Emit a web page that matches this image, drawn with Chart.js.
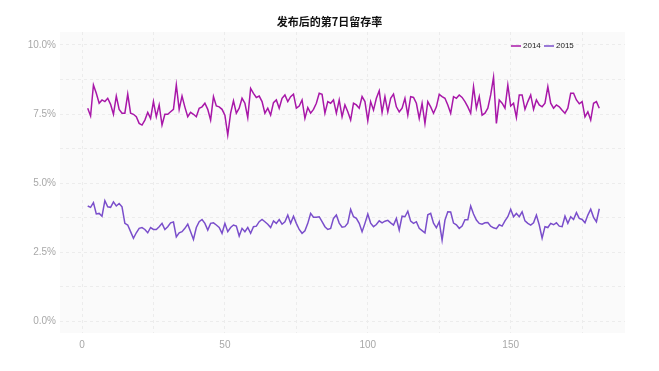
<!DOCTYPE html>
<html lang="zh">
  <head>
    <meta charset="UTF-8" />
    <title>发布后的第7日留存率</title>
    <style>
      body {
        margin: 0;
        padding: 0;
        background-color: #ffffff;
      }
      .wrap {
        position: relative;
        width: 659px;
        height: 371px;
      }
    </style>
  </head>
  <body>
    <div class="wrap">
      <canvas id="chart" width="659" height="371"></canvas>
    </div>

    <script src="https://cdn.jsdelivr.net/npm/chart.js@4/dist/chart.umd.min.js"></script>
    <script>
      // day after release (x) and retention in percent
      const firstDay = 2;
      const chartTitle = "发布后的第7日留存率";
      const seriesNames = ["2014", "2015"];
      const seriesColors = ["#a817a8", "#7a4ecb"];

      const retention2014 = [
        7.71, 7.43, 8.55, 8.25, 7.89, 8.01, 7.95, 8.07, 7.85, 7.49,
        8.15, 7.67, 7.53, 7.53, 8.22, 7.53, 7.49, 7.40, 7.16, 7.10,
        7.28, 7.56, 7.34, 7.95, 7.40, 7.83, 7.10, 7.49, 7.49, 7.58,
        7.67, 8.55, 7.67, 8.15, 7.75, 7.40, 7.56, 7.49, 7.40, 7.71,
        7.76, 7.89, 7.67,
        7.28, 8.13, 7.79, 7.76, 7.67, 7.46, 6.74, 7.53, 7.98, 7.53,
        7.71, 8.07, 7.89, 7.37, 8.43, 8.25, 8.10, 8.15, 7.95, 7.53,
        7.71, 7.46, 7.91, 8.01, 7.71, 8.07, 8.19, 7.95, 8.13, 8.22,
        7.71, 7.79, 8.01, 7.34, 7.73, 7.53, 7.67, 7.89, 8.25, 8.21,
        7.53, 7.95,
        7.89, 8.01, 7.53, 8.01, 7.40, 7.83, 7.58, 7.28, 7.89, 7.83,
        7.71, 8.13, 7.95, 7.26, 7.95, 7.64, 8.07, 8.34, 7.56, 8.13,
        7.58, 8.07, 8.22, 7.76, 7.58, 7.71, 8.07, 7.46, 8.13, 8.10,
        7.89, 7.34, 7.89, 7.16, 7.95, 7.76, 7.53, 7.76, 8.21, 8.13,
        8.07, 7.83, 7.53, 8.13,
        8.07, 8.19, 8.10, 7.95, 7.76, 7.53, 8.49, 7.71, 8.13, 7.46,
        7.53, 7.71, 8.19, 8.83, 7.16, 8.01, 7.89, 7.71, 8.55, 7.79,
        7.89, 7.38, 8.19, 8.19, 7.67, 7.95, 8.19, 7.67, 8.01, 7.83,
        7.76, 7.89, 8.49, 7.89, 7.71, 7.83, 7.76, 7.64, 7.53, 7.71,
        8.25, 8.25, 8.01, 7.87, 7.95, 7.40, 7.58, 7.28, 7.89, 7.95,
        7.71,
      ];

      const retention2015 = [
        4.17, 4.12, 4.29, 3.88, 3.90, 3.80, 4.36, 4.14, 4.12, 4.32,
        4.17, 4.26, 4.14, 3.54, 3.48, 3.24, 3.00, 3.20, 3.36, 3.39,
        3.32, 3.20, 3.39, 3.32, 3.32, 3.42, 3.54, 3.32, 3.42, 3.56,
        3.59, 3.05, 3.20, 3.24, 3.36, 3.51, 3.24, 2.96, 3.39, 3.60,
        3.68, 3.54, 3.30,
        3.54, 3.56, 3.48, 3.39, 3.18, 3.54, 3.24, 3.39, 3.48, 3.44,
        3.08, 3.36, 3.24, 3.39, 3.18, 3.42, 3.44, 3.60, 3.68, 3.60,
        3.51, 3.39, 3.63, 3.54, 3.68, 3.51, 3.60,
        3.84, 3.54, 3.80, 3.54, 3.32, 3.18, 3.27, 3.54, 3.90, 3.76,
        3.76, 3.78, 3.60, 3.42, 3.32,
        3.36, 3.72, 3.84, 3.55, 3.40, 3.42, 3.55, 4.05, 3.78, 3.72,
        3.54, 3.24, 3.54, 3.88, 3.55, 3.42, 3.50, 3.63, 3.56, 3.62,
        3.65, 3.56, 3.48, 3.72, 3.30, 3.80, 3.78, 3.98, 3.62, 3.54,
        3.60, 3.36, 3.28, 3.20, 3.85, 3.90, 3.55, 3.38, 3.60, 2.93,
        3.66, 3.96, 3.95, 3.55,
        3.49, 3.36, 3.44, 3.67, 3.67, 4.17, 3.88, 3.66, 3.54, 3.51,
        3.56, 3.57, 3.44, 3.38, 3.35, 3.49, 3.44, 3.63, 3.78, 4.05,
        3.78, 3.90, 3.78, 3.96, 3.63, 3.54, 3.48, 3.56, 3.84, 3.48,
        3.00, 3.42, 3.39, 3.54, 3.49, 3.56, 3.44, 3.42, 3.80, 3.54,
        3.78, 3.68, 3.93, 3.72, 3.68, 3.56, 3.84, 4.05, 3.76, 3.60,
        4.07,
      ];

      const yLabelTicks = [0, 2.5, 5, 7.5, 10];
      const xLabelTicks = [0, 50, 100, 150];

      function toPoints(values) {
        return values.map((v, i) => ({ x: firstDay + i, y: v }));
      }

      const gridColor = "#ececec";
      const tickColor = "#a8a8a8";

      const plotBackground = {
        id: "plotBackground",
        beforeDraw(chart) {
          const { ctx, chartArea } = chart;
          ctx.save();
          ctx.fillStyle = "#fafafa";
          ctx.fillRect(
            chartArea.left,
            chartArea.top,
            chartArea.right - chartArea.left,
            chartArea.bottom - chartArea.top
          );
          ctx.restore();
        },
      };

      // title centred on the whole canvas, legend inside the plot top right
      const titleAndLegend = {
        id: "titleAndLegend",
        afterDraw(chart) {
          const { ctx, chartArea } = chart;
          ctx.save();
          ctx.font = "bold 11px 'Noto Sans CJK SC', sans-serif";
          ctx.fillStyle = "#111";
          ctx.textAlign = "center";
          ctx.textBaseline = "middle";
          ctx.fillText(chartTitle, chart.width / 2, 22);

          ctx.font = "8px Arial, 'Liberation Sans', sans-serif";
          ctx.textAlign = "left";
          let x = chartArea.right - 114;
          const y = chartArea.top + 14;
          chart.data.datasets.forEach((ds) => {
            ctx.strokeStyle = ds.borderColor;
            ctx.lineWidth = 1.5;
            ctx.beginPath();
            ctx.moveTo(x, y);
            ctx.lineTo(x + 10, y);
            ctx.stroke();
            ctx.fillStyle = "#222";
            ctx.fillText(ds.label, x + 12, y);
            x += 33;
          });
          ctx.restore();
        },
      };

      const ctx = document.getElementById("chart").getContext("2d");
      new Chart(ctx, {
        type: "line",
        data: {
          datasets: [
            {
              label: seriesNames[0],
              data: toPoints(retention2014),
              borderColor: seriesColors[0],
              borderWidth: 1.5,
              pointRadius: 0,
              fill: false,
            },
            {
              label: seriesNames[1],
              data: toPoints(retention2015),
              borderColor: seriesColors[1],
              borderWidth: 1.5,
              pointRadius: 0,
              fill: false,
            },
          ],
        },
        options: {
          responsive: false,
          animation: false,
          layout: {
            padding: { top: 32, right: 34, bottom: 0, left: 20 },
          },
          plugins: {
            legend: { display: false },
            tooltip: { enabled: false },
            title: { display: false },
          },
          scales: {
            x: {
              type: "linear",
              min: -7.7,
              max: 190,
              border: { display: false, dash: [3, 3] },
              grid: {
                color: gridColor,
                drawTicks: false,
              },
              afterBuildTicks(scale) {
                const t = [];
                for (let v = 0; v <= 175; v += 25) t.push({ value: v });
                scale.ticks = t;
              },
              afterFit(scale) {
                scale.height = 38;
              },
              ticks: {
                color: tickColor,
                padding: 6,
                font: { family: "Arial, 'Liberation Sans', sans-serif", size: 10 },
                callback: (v) => (xLabelTicks.includes(v) ? String(v) : ""),
                maxRotation: 0,
                autoSkip: false,
              },
            },
            y: {
              min: -0.43,
              max: 10.47,
              border: { display: false, dash: [3, 3] },
              grid: {
                color: gridColor,
                drawTicks: false,
              },
              afterBuildTicks(scale) {
                const t = [];
                for (let v = 0; v <= 10; v += 1.25) t.push({ value: v });
                scale.ticks = t;
              },
              afterFit(scale) {
                scale.width = 40;
              },
              ticks: {
                color: tickColor,
                padding: 4,
                font: { family: "Arial, 'Liberation Sans', sans-serif", size: 10 },
                callback: (v) =>
                  yLabelTicks.includes(v) ? v.toFixed(1) + "%" : "",
                autoSkip: false,
              },
            },
          },
        },
        plugins: [plotBackground, titleAndLegend],
      });
    </script>
  </body>
</html>
